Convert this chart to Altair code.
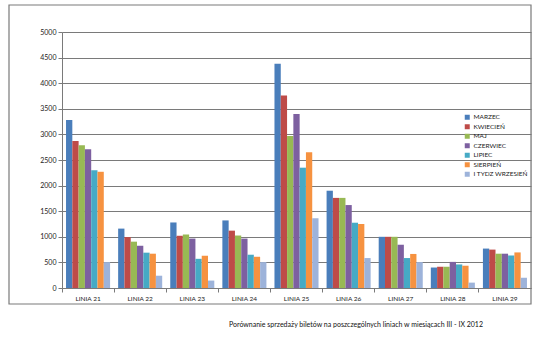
import altair as alt
import pandas as pd

lines = ["LINIA 21", "LINIA 22", "LINIA 23", "LINIA 24", "LINIA 25",
         "LINIA 26", "LINIA 27", "LINIA 28", "LINIA 29"]
series = ["MARZEC", "KWIECIEŃ", "MAJ", "CZERWIEC", "LIPIEC", "SIERPIEŃ", "I TYDZ WRZESIEŃ"]
colors = ["#4A7EBB", "#BE4B48", "#98B954", "#7D60A0", "#46AAC5", "#F69240", "#9DB3DA"]

marzec = [3280, 1160, 1280, 1320, 4380, 1900, 1000, 400, 770]
kwiecien = [2870, 995, 1020, 1120, 3760, 1760, 1000, 415, 750]
maj = [2790, 905, 1045, 1025, 2970, 1760, 1000, 415, 670]
czerwiec = [2710, 825, 965, 965, 3400, 1620, 845, 510, 670]
lipiec = [2300, 690, 570, 650, 2350, 1275, 585, 460, 635]
sierpien = [2270, 670, 630, 610, 2650, 1250, 665, 435, 695]
wrzesien = [505, 240, 145, 505, 1360, 585, 505, 105, 200]

y_ticks = [0, 500, 1000, 1500, 2000, 2500, 3000, 3500, 4000, 4500, 5000]
title_text = "Porównanie sprzedaży biletów na poszczególnych liniach w miesiącach III - IX 2012"

all_vals = [marzec, kwiecien, maj, czerwiec, lipiec, sierpien, wrzesien]
rows = []
for s, vals in zip(series, all_vals):
    for l, v in zip(lines, vals):
        rows.append({"linia": l, "miesiac": s, "wartosc": v})
df = pd.DataFrame(rows)

FONT = "Lato"
GRID = "#7a7a7a"

bars = alt.Chart(df).mark_bar().encode(
    x=alt.X("linia:N", sort=lines,
            scale=alt.Scale(paddingInner=0, paddingOuter=0),
            axis=alt.Axis(title=None, labelAngle=0, bandPosition=0,
                          labelFont=FONT, labelFontSize=6.5, labelColor="#222222",
                          labelPadding=3, tickSize=4, tickColor=GRID,
                          domainColor=GRID, grid=False)),
    xOffset=alt.XOffset("miesiac:N", sort=series,
                        scale=alt.Scale(paddingInner=0, paddingOuter=0.64)),
    y=alt.Y("wartosc:Q", scale=alt.Scale(domain=[0, 5000], nice=False),
            axis=alt.Axis(title=None, values=y_ticks, format="d", labelFont=FONT,
                          labelFontSize=7, labelColor="#222222", labelPadding=2,
                          tickSize=4, tickColor=GRID, domainColor=GRID,
                          gridColor=GRID, gridWidth=1, gridOpacity=1)),
    color=alt.Color("miesiac:N", sort=series,
                    scale=alt.Scale(domain=series, range=colors),
                    legend=alt.Legend(title=None, orient="none", legendX=402, legendY=82,
                                      symbolType="square", symbolSize=25,
                                      symbolStrokeWidth=0,
                                      labelFont=FONT, labelFontSize=6.5,
                                      labelColor="#222222", rowPadding=2.5,
                                      labelOffset=3)),
)

frame = alt.Chart(pd.DataFrame({"k": [0]})).mark_rect(
    fill=None, stroke="#7a7a7a", strokeWidth=1.2
).encode(
    x=alt.value(-53), x2=alt.value(469), y=alt.value(-27), y2=alt.value(272)
)

title = alt.Chart(pd.DataFrame({"t": [title_text]})).mark_text(
    font=FONT, fontSize=7, color="#111111", align="center", baseline="middle"
).encode(
    x=alt.value(294), y=alt.value(293), text="t:N"
)

chart = alt.layer(bars, frame, title).properties(
    width=469, height=256,
    autosize=alt.AutoSizeParams(type="none"),
    padding={"left": 62, "top": 32, "right": 13, "bottom": 58},
).configure_view(stroke=None).configure(background="white")

chart.save("out.html", embed_options={"renderer": "svg", "actions": False})
